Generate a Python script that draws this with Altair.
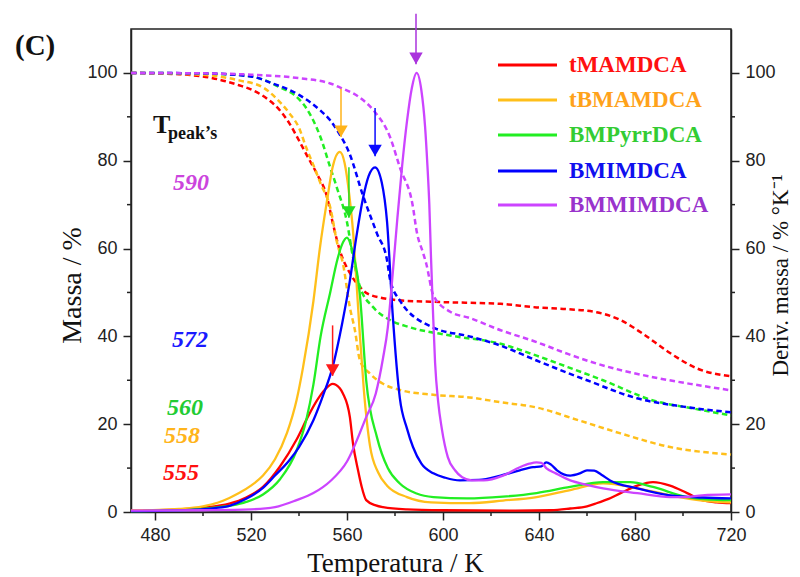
import altair as alt
import pandas as pd

# ---------------- data ----------------
series = ["tMAMDCA", "tBMAMDCA", "BMPyrrDCA", "BMIMDCA", "BMMIMDCA"]
line_colors = ["#ff0000", "#ffbf1a", "#22ee22", "#0000ff", "#cc44ff"]
text_colors = ["#ff1010", "#ffa21a", "#33cc33", "#1010ee", "#9933cc"]

# mass curves (left axis, dashed)
tMAMDCA_mass_T = [470, 490, 504, 515, 521, 527, 532, 536, 540, 544, 547.5, 551.7, 554, 557, 561, 565, 568, 575, 582, 600, 624, 639, 652, 664, 674, 683, 694.6, 705.8, 720]
tMAMDCA_mass_v = [100, 99.7, 98.8, 97.2, 96.0, 94.0, 91.5, 88.5, 84.6, 80.5, 77.0, 71.7, 66.0, 59.6, 54.6, 51.5, 49.9, 48.7, 48.2, 47.8, 47.4, 46.6, 46.2, 45.5, 43.7, 40.7, 36.2, 32.7, 30.9]

tBMAMDCA_mass_T = [470, 490, 505, 515, 525, 530, 536, 540, 543, 546, 549, 553, 556, 558.3, 561.2, 563.3, 565.4, 569.6, 575, 582, 596, 611, 624, 639, 657, 674, 694.6, 720]
tBMAMDCA_mass_v = [100, 99.8, 99.3, 98.3, 96.7, 94.5, 90.8, 87.5, 83.0, 79.0, 74.8, 69.4, 61.0, 56.6, 46.6, 41.4, 34.5, 31.5, 29.2, 27.8, 26.7, 26.1, 25.0, 23.8, 20.8, 17.9, 14.8, 13.1]

BMPyrrDCA_mass_T = [470, 495, 515, 525, 532, 538, 543, 549, 553, 556, 560, 562.5, 565.4, 571, 578, 586, 603, 624, 639, 652, 666.7, 687.5, 705, 720]
BMPyrrDCA_mass_v = [100, 99.9, 99.5, 98.5, 96.7, 95.0, 92.0, 85.3, 78.5, 73.5, 66.0, 58.0, 51.3, 46.6, 43.7, 42.1, 40.2, 38.3, 35.6, 33.0, 30.0, 25.4, 23.5, 22.0]

BMIMDCA_mass_T = [470, 500, 520, 529, 540, 548.75, 553, 555.8, 561, 566.7, 572.5, 576.7, 578, 582, 596, 611, 624, 639, 660, 680.8, 700, 720]
BMIMDCA_mass_v = [100, 99.9, 99.2, 97.6, 95.0, 91.5, 89.2, 87.0, 81.7, 72.0, 63.4, 57.3, 52.8, 48.2, 42.0, 40.0, 37.9, 34.5, 30.0, 25.9, 24.0, 22.7]

BMMIMDCA_mass_T = [470, 500, 520, 540, 553, 557, 565, 571, 578, 582, 587.5, 589, 591.7, 593, 596, 603, 611, 624, 639, 652, 664, 687.5, 705, 720]
BMMIMDCA_mass_v = [100, 99.9, 99.6, 98.8, 97.6, 96.7, 94.5, 91.5, 85.3, 78.5, 69.4, 64.0, 59.0, 56.6, 49.3, 45.6, 44.2, 41.4, 38.7, 36.0, 33.8, 30.7, 29.0, 27.7]

# derivative curves (right axis, solid)
tMAMDCA_der_T = [470, 490, 500, 511, 518, 525, 532, 539, 544, 547.5, 551, 554, 557, 558.3, 561.2, 562.5, 564.6, 566, 568, 572, 575, 585, 600, 630, 645, 653, 660, 664, 669, 674, 681, 687.5, 694.6, 701.7, 708, 714, 720]
tMAMDCA_der_v = [0.3, 0.6, 1.0, 1.9, 3.3, 5.7, 10.3, 16.5, 22.0, 25.4, 28.0, 29.2, 28.2, 27.0, 21.6, 15.6, 9.5, 6.0, 2.7, 1.5, 1.1, 0.6, 0.4, 0.3, 0.4, 0.8, 1.3, 2.0, 3.0, 4.3, 6.0, 6.8, 6.0, 4.3, 2.7, 2.2, 2.0]

tBMAMDCA_der_T = [470, 490, 500, 506, 511, 515, 520, 525, 530, 535, 539, 541.7, 546, 548.75, 551.7, 554, 557, 559, 561, 562.5, 564, 565.4, 567, 569.6, 573, 576.7, 585, 595, 611, 625, 639, 653, 666.7, 681, 694.6, 708, 720]
tBMAMDCA_der_v = [0.3, 0.7, 1.3, 2.1, 3.2, 4.3, 6.0, 8.3, 12.0, 18.0, 25.5, 33.0, 48.0, 60.3, 71.0, 78.5, 82.0, 79.5, 72.0, 64.0, 52.0, 40.0, 28.0, 15.0, 9.0, 6.0, 3.4, 2.2, 2.0, 2.6, 3.4, 5.0, 6.5, 5.4, 3.8, 2.6, 2.2]

BMPyrrDCA_der_T = [470, 495, 505, 512, 518, 525, 532, 539, 543, 546, 549, 553, 556, 558, 560, 562, 565.4, 568, 572.5, 577, 582, 589, 596, 610, 625, 639, 653, 666.7, 678, 687.5, 701.7, 710, 720]
BMPyrrDCA_der_v = [0.2, 0.5, 1.0, 1.5, 2.3, 4.0, 7.4, 14.0, 20.9, 29.0, 40.0, 50.0, 57.5, 61.0, 62.5, 60.0, 49.3, 30.0, 17.0, 10.0, 6.5, 4.2, 3.4, 3.1, 3.5, 4.3, 5.7, 6.8, 6.8, 5.7, 3.4, 2.9, 2.7]

BMIMDCA_der_T = [470, 495, 505, 511, 518, 525, 530, 536, 540, 546, 550, 554, 558, 561, 564, 566.5, 569, 571.7, 574.5, 576.7, 579, 582, 585, 587.5, 591, 596, 601, 607, 615, 624, 632, 637.5, 641, 643, 645, 647.5, 653, 657, 660, 663, 666, 669.6, 681, 694.6, 708, 720]
BMIMDCA_der_v = [0.2, 0.5, 0.9, 1.4, 3.0, 5.5, 8.3, 11.8, 14.8, 20.9, 26.5, 33.0, 43.0, 52.0, 63.0, 71.0, 76.5, 78.5, 75.0, 66.0, 45.3, 26.0, 19.0, 14.8, 11.0, 8.8, 7.8, 7.2, 7.3, 8.3, 9.5, 10.2, 10.4, 11.3, 10.8, 9.5, 8.3, 8.8, 9.5, 9.4, 8.5, 7.2, 5.4, 3.8, 3.3, 3.1]

BMMIMDCA_der_T = [470, 500, 520, 530, 539, 546, 553, 560, 568, 572, 575, 577, 579, 581, 583, 585, 587, 589, 591, 592.5, 593.5, 594.3, 595, 595.8, 596.7, 598, 599.5, 602, 605, 608, 612, 617, 625, 632, 636, 639, 641, 643, 647, 653, 660, 666.7, 681, 694.6, 701, 708, 720]
BMMIMDCA_der_v = [0.3, 0.4, 0.6, 1.1, 2.7, 4.3, 7.0, 11.5, 21.6, 27.0, 35.0, 42.0, 54.0, 67.0, 79.0, 89.0, 96.5, 100.0, 96.0, 88.0, 79.0, 70.0, 58.0, 46.0, 34.0, 25.0, 19.0, 12.5, 9.5, 7.9, 7.2, 7.2, 8.3, 10.2, 11.0, 11.3, 11.2, 10.0, 8.8, 7.2, 6.2, 5.4, 4.3, 3.4, 3.4, 3.8, 4.0]

# peak arrows
arrow_T = [554, 557.5, 560.8, 571.7, 588.75]
arrow_top = [42.5, 96.4, 78.5, 92.0, 113.5]
arrow_tip = [31.0, 85.4, 67.0, 81.0, 102.0]
arrow_colors = ["#ff1a1a", "#ffb31a", "#22dd22", "#0a0aff", "#aa33dd"]

# peak temperature labels
peak_labels = ["555", "558", "560", "572", "590"]
peak_label_colors = ["#ff1010", "#ffb41a", "#22cc33", "#1a1aff", "#cc44dd"]

x_ticks = [480, 520, 560, 600, 640, 680, 720]
x_minor = [500, 540, 580, 620, 660, 700]
y_ticks = [0, 20, 40, 60, 80, 100]
y_minor = [10, 30, 50, 70, 90]

# ---------------- tables ----------------
mass_df = pd.concat([
    pd.DataFrame({"series": n, "T": t, "v": v}) for n, t, v in [
        (series[0], tMAMDCA_mass_T, tMAMDCA_mass_v),
        (series[1], tBMAMDCA_mass_T, tBMAMDCA_mass_v),
        (series[2], BMPyrrDCA_mass_T, BMPyrrDCA_mass_v),
        (series[3], BMIMDCA_mass_T, BMIMDCA_mass_v),
        (series[4], BMMIMDCA_mass_T, BMMIMDCA_mass_v),
    ]
], ignore_index=True)

der_df = pd.concat([
    pd.DataFrame({"series": n, "T": t, "v": v}) for n, t, v in [
        (series[0], tMAMDCA_der_T, tMAMDCA_der_v),
        (series[1], tBMAMDCA_der_T, tBMAMDCA_der_v),
        (series[2], BMPyrrDCA_der_T, BMPyrrDCA_der_v),
        (series[3], BMIMDCA_der_T, BMIMDCA_der_v),
        (series[4], BMMIMDCA_der_T, BMMIMDCA_der_v),
    ]
], ignore_index=True)

arrow_df = pd.DataFrame({"T": arrow_T, "top": arrow_top, "tip": arrow_tip, "color": arrow_colors})

# ---------------- layout ----------------
W, H = 600, 483
X0, Y0 = 131, 29  # plot origin on the page

SERIF = "Liberation Serif"
SANS = "Liberation Sans"

xscale = alt.Scale(domain=[470, 720], nice=False, zero=False)
yscale = alt.Scale(domain=[0, 110], nice=False, zero=False)
cscale = alt.Scale(domain=series, range=line_colors)

x_axis = alt.Axis(values=x_ticks, title="Temperatura / K", titleFontSize=27,
                  titleX=264, titleY=59, titleAlign="center", titleBaseline="alphabetic",
                  labelFlush=False, format="d")
left_axis = alt.Axis(orient="left", values=y_ticks, title="Massa / %", titleFontSize=28,
                     titleAngle=270, titleX=-51, titleY=256, titleAlign="center",
                     titleBaseline="alphabetic", format="d")
right_axis = alt.Axis(orient="right", values=y_ticks, title="Deriv. massa / % °K⁻¹", titleFontSize=23,
                      titleAngle=270, titleX=56, titleY=246, titleAlign="center",
                      titleBaseline="alphabetic", format="d")


def X(field="T:Q"):
    return alt.X(field, scale=xscale, axis=x_axis)


mass = alt.Chart(mass_df).mark_line(strokeDash=[5.5, 3.5], strokeWidth=2.5, interpolate="monotone").encode(
    x=X(),
    y=alt.Y("v:Q", scale=yscale, axis=left_axis),
    color=alt.Color("series:N", scale=cscale, legend=None),
    order=alt.Order("T:Q"),
)

der = alt.Chart(der_df).mark_line(strokeWidth=2.3, interpolate="monotone").encode(
    x=X(),
    y=alt.Y("v:Q", scale=yscale, axis=right_axis),
    color=alt.Color("series:N", scale=cscale, legend=None),
    order=alt.Order("T:Q"),
)

arrow_shaft = alt.Chart(arrow_df).mark_rule(strokeWidth=1.5).encode(
    x=X(),
    y=alt.Y("top:Q", scale=yscale, axis=None),
    y2="tip:Q",
    color=alt.Color("color:N", scale=None),
)
arrow_head = alt.Chart(arrow_df).mark_point(shape="triangle-down", filled=True, size=180, opacity=1, yOffset=-5.8).encode(
    x=X(),
    y=alt.Y("tip:Q", scale=yscale, axis=None),
    color=alt.Color("color:N", scale=None),
)

minor_x_df = pd.DataFrame({"T": x_minor})
minor_y_df = pd.DataFrame({"v": y_minor})
tick_x = alt.Chart(minor_x_df).mark_rule(color="#222", strokeWidth=1.5).encode(
    x=X(), y=alt.value(H), y2=alt.value(H + 4))
tick_yl = alt.Chart(minor_y_df).mark_rule(color="#222", strokeWidth=1.5).encode(
    y=alt.Y("v:Q", scale=yscale, axis=None), x=alt.value(-4), x2=alt.value(0))
tick_yr = alt.Chart(minor_y_df).mark_rule(color="#222", strokeWidth=1.5).encode(
    y=alt.Y("v:Q", scale=yscale, axis=None), x=alt.value(W), x2=alt.value(W + 4))

one = pd.DataFrame({"k": [0]})


def text_at(txt, px, py, size, color="#111", weight="bold", style="normal", font=SERIF, align="left"):
    return alt.Chart(one).mark_text(text=txt, font=font, fontSize=size, fontWeight=weight, fontStyle=style,
                                    color=color, align=align, baseline="alphabetic").encode(
        x=alt.value(px - X0), y=alt.value(py - Y0))


texts = [
    text_at("(C)", 15, 55, 29),
    text_at("T", 153, 133, 26),
    text_at("peak’s", 168, 139, 18),
]
peak_px = [(163, 480), (164, 443), (167, 415), (172, 347), (173, 190)]
for lab, col, (px, py) in zip(peak_labels, peak_label_colors, peak_px):
    texts.append(text_at(lab, px, py, 24, color=col, style="italic"))

legend_layers = []
legend_rows = [65, 100, 135, 171, 205]
for name, lc, tc, ly in zip(series, line_colors, text_colors, legend_rows):
    legend_layers.append(alt.Chart(one).mark_rule(color=lc, strokeWidth=3).encode(
        x=alt.value(498 - X0), x2=alt.value(557 - X0), y=alt.value(ly - Y0)))
    legend_layers.append(text_at(name, 569, ly + 7, 23, color=tc))

chart = alt.layer(mass, der, arrow_shaft, arrow_head, tick_x, tick_yl, tick_yr, *texts, *legend_layers).resolve_scale(
    y="independent"
).properties(
    width=W, height=H,
    autosize=alt.AutoSizeParams(type="none"),
    padding={"left": X0 - 8, "top": Y0 - 8, "right": 61, "bottom": 64},
    background="white",
).configure_view(
    stroke="#222", strokeWidth=1.5
).configure_axis(
    labelFont=SANS, labelFontSize=18, labelColor="#222", labelPadding=6,
    tickSize=8, tickWidth=1.5, tickColor="#222",
    domainColor="#222", domainWidth=1.5, grid=False,
    titleFont=SERIF, titleFontWeight="normal", titleColor="#111",
)

chart.save("out.html", embed_options={"renderer": "svg", "actions": False})
